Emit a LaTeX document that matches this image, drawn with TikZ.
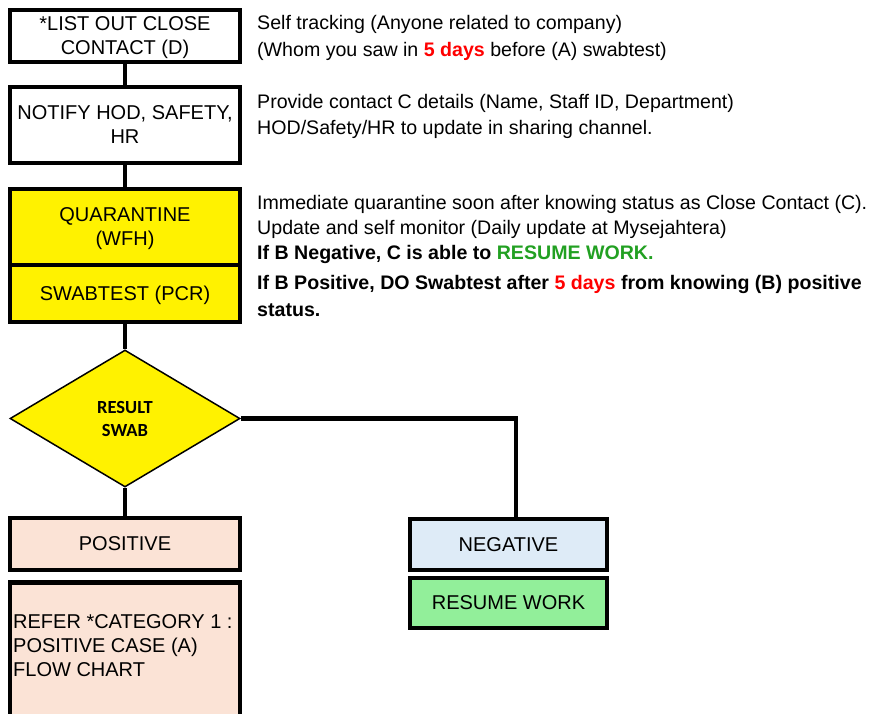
\documentclass[tikz,border=0pt]{standalone}
\usepackage{fontspec}
\setmainfont{Liberation Sans}
\newfontfamily\calibri{Carlito}
\usetikzlibrary{shapes.geometric}
\definecolor{peach}{HTML}{FBE3D6}
\definecolor{paleblue}{HTML}{DEEBF7}
\definecolor{palegreen}{HTML}{92EF9A}
\definecolor{okgreen}{HTML}{22A022}
\tikzset{
 box/.style={draw,line width=4.5pt,minimum width=230pt,inner sep=0pt,text depth=0pt,align=center,font=\fontsize{20}{24}\selectfont},
 note/.style={anchor=west,inner sep=0pt,font=\fontsize{19.6}{23}\selectfont},
 boldnote/.style={note,font=\fontsize{19.6}{23}\selectfont\bfseries},
 link/.style={line width=4.5pt}
}
\begin{document}
\begin{tikzpicture}[x=1pt,y=-1pt]
 \useasboundingbox (0,0) rectangle (871,713);
 \clip (0,0) rectangle (871,713);
 \node[box,minimum height=52pt](list) at (125,36) {*LIST OUT CLOSE\\CONTACT (D)};
 \node[box,minimum height=76pt](notify) at (125,125) {NOTIFY HOD, SAFETY,\\HR};
 \node[box,fill=yellow,minimum height=76pt](quar) at (125,227) {QUARANTINE\\(WFH)};
 \node[box,fill=yellow,minimum height=57pt](swab) at (125,293.5) {SWABTEST (PCR)};
 \node[draw,line width=1.5pt,fill=yellow,diamond,minimum width=230pt,minimum height=137pt,inner sep=0pt,align=center,font=\calibri\bfseries\fontsize{18.5}{23}\selectfont](result) at (125,418.5) {RESULT\\SWAB};
 \node[box,fill=peach,minimum height=52pt](pos) at (125,544) {POSITIVE};
 \node[box,fill=peach,minimum height=144pt,anchor=north](refer) at (125,580) {};
 \node[anchor=west,inner sep=0pt,align=left,font=\fontsize{20}{24}\selectfont](refertxt) at (13,646) {REFER *CATEGORY 1 :\\POSITIVE CASE (A)\\FLOW CHART};
 \node[box,fill=paleblue,minimum width=197pt,minimum height=51pt](neg) at (508.5,544.5) {NEGATIVE};
 \node[box,fill=palegreen,minimum width=197pt,minimum height=50pt](resume) at (508.5,603) {RESUME WORK};
 \coordinate (negtop) at (516,519);
 \draw[link] (list.south) -- (notify.north);
 \draw[link] (notify.south) -- (quar.north);
 \draw[link] (swab.south) -- (result.north);
 \draw[link] (result.south) -- (pos.north);
 \draw[link] (result.east) -| (negtop);
 \node[note](t1) at (257,24.5) {Self tracking (Anyone related to company)};
 \node[note](t2) at (257,51.5) {(Whom you saw in \textcolor{red}{\bfseries 5 days} before (A) swabtest)};
 \node[note](t3) at (257,103.5) {Provide contact C details (Name, Staff ID, Department)};
 \node[note](t4) at (257,129.5) {HOD/Safety/HR to update in sharing channel.};
 \node[note](t5) at (257,204.5) {Immediate quarantine soon after knowing status as Close Contact (C).};
 \node[note](t6) at (257,229.5) {Update and self monitor (Daily update at Mysejahtera)};
 \node[boldnote](t7) at (257,254.5) {If B Negative, C is able to \textcolor{okgreen}{RESUME WORK.}};
 \node[boldnote](t8) at (257,284.5) {If B Positive, DO Swabtest after \textcolor{red}{5 days} from knowing (B) positive};
 \node[boldnote](t9) at (257,310.5) {status.};
\end{tikzpicture}
\end{document}
